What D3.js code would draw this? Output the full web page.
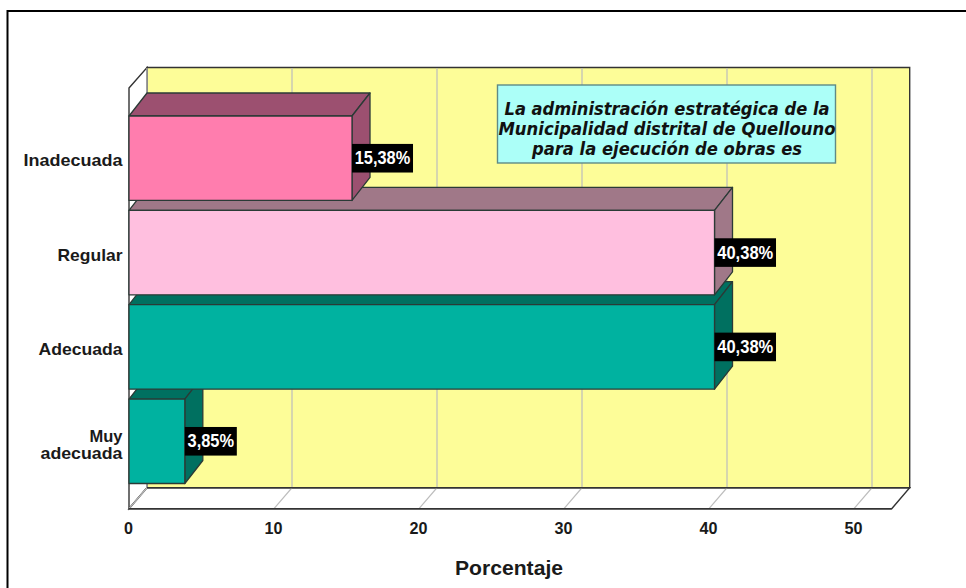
<!DOCTYPE html>
<html><head><meta charset="utf-8">
<script src="https://cdnjs.cloudflare.com/ajax/libs/d3/7.8.5/d3.min.js"></script>
<style>html,body{margin:0;padding:0;background:#fff;overflow:hidden}svg{display:block}</style>
</head><body><svg id="c" width="966" height="588"></svg>
<script>
const categories = ["Inadecuada","Regular","Adecuada","Muy adecuada"];
const values = [15.38,40.38,40.38,3.85];
const valueLabels = ["15,38%","40,38%","40,38%","3,85%"];
const frontColors = ["#FF7DAE","#FFBFDF","#00B2A0","#00B2A0"];
const darkColors = ["#9C5070","#A07888","#007060","#007060"];
const tickValues = [0,10,20,30,40,50];
const titleLines = ["La administración estratégica de la","Municipalidad distrital de Quellouno","para la ejecución de obras es"];
const xTitle = "Porcentaje";

const svg = d3.select("#c");
const bold = "'Liberation Sans',Arial,sans-serif";
const x = d3.scaleLinear().domain([0,52.6]).range([129,891.7]);
const y = d3.scaleBand().domain(categories).range([116,483.5]).paddingInner(0.105);
const dx = 18, wallDy = 21, barDy = 23;
const wallTop = 88, wallBottom = 508.7;
const line = d3.line();
const poly = pts => line(pts) + "Z";

svg.append("rect").attr("x",7.5).attr("y",11).attr("width",980).attr("height",600)
  .attr("fill","#fff").attr("stroke","#000").attr("stroke-width",2);

// back wall, left wall, floor
svg.append("path").attr("d",poly([[x(0)+dx,wallTop-wallDy+.5],[x.range()[1]+dx,wallTop-wallDy+.5],[x.range()[1]+dx,wallBottom-wallDy],[x(0)+dx,wallBottom-wallDy]]))
  .attr("fill","#FDFD98").attr("stroke","#333").attr("stroke-width",1.4);
svg.append("path").attr("d",poly([[x(0),wallTop],[x(0)+dx,wallTop-wallDy+.5],[x(0)+dx,wallBottom-wallDy],[x(0),wallBottom]]))
  .attr("fill","#fff").attr("stroke","#333").attr("stroke-width",1.4);
svg.append("path").attr("d",poly([[x(0),wallBottom],[x(0)+dx,wallBottom-wallDy],[x.range()[1]+dx,wallBottom-wallDy],[x.range()[1],wallBottom]]))
  .attr("fill","#fff").attr("stroke","#333").attr("stroke-width",1.4);

// grid
const grid = svg.append("g").attr("fill","none").attr("stroke","#BDBDBD").attr("stroke-width",1.2);
tickValues.forEach(t=>{
  grid.append("path").attr("d",line([[x(t),wallBottom],[x(t)+dx,wallBottom-wallDy],[x(t)+dx,wallTop-wallDy+1]]));
});
svg.append("path").attr("d",line([[x(0),wallBottom],[x.range()[1],wallBottom]])).attr("stroke","#333").attr("stroke-width",1.6);
svg.append("path").attr("d",line([[x(0)+dx,wallBottom-wallDy],[x.range()[1]+dx,wallBottom-wallDy]])).attr("stroke","#333").attr("stroke-width",1.4);

// title box
svg.append("rect").attr("x",497.5).attr("y",85).attr("width",338).attr("height",78)
  .attr("fill","#ACFFF8").attr("stroke","#5F8A86").attr("stroke-width",1.4);
const titleWidths = [325,337,270];
titleLines.forEach((t,i)=>{
  svg.append("text").attr("x",667).attr("y",114.5+i*20).attr("text-anchor","middle")
    .attr("font-family","'DejaVu Sans',sans-serif").attr("font-size",18).attr("font-weight","bold").attr("font-style","italic")
    .attr("textLength",titleWidths[i]).attr("lengthAdjust","spacingAndGlyphs").attr("fill","#111").text(t);
});

// bars, painted from the bottom up
const order = d3.range(categories.length).reverse();
order.forEach(i=>{
  const c = categories[i], x0 = x(0), x1 = x(values[i]), y0 = y(c), y1 = y0+y.bandwidth();
  const g = svg.append("g").attr("stroke","#2b3a36").attr("stroke-width",1.3).attr("stroke-linejoin","round");
  g.append("path").attr("d",poly([[x0,y0],[x0+dx,y0-barDy],[x1+dx,y0-barDy],[x1,y0]])).attr("fill",darkColors[i]);
  g.append("path").attr("d",poly([[x1,y0],[x1+dx,y0-barDy],[x1+dx,y1-barDy],[x1,y1]])).attr("fill",darkColors[i]);
  g.append("rect").attr("x",x0).attr("y",y0).attr("width",x1-x0).attr("height",y1-y0).attr("fill",frontColors[i]);
});

// value labels
const labelW = [61,61.5,61.5,52];
categories.forEach((c,i)=>{
  const cy = y(c)+y.bandwidth()/2, x1 = x(values[i]);
  svg.append("rect").attr("x",x1).attr("y",cy-14.3).attr("width",labelW[i]).attr("height",28.6).attr("fill","#000");
  svg.append("text").attr("x",x1+labelW[i]/2).attr("y",cy+6).attr("text-anchor","middle")
    .attr("font-family",bold).attr("font-weight","bold").attr("font-size",18).attr("fill","#fff")
    .attr("textLength",labelW[i]-5.5).attr("lengthAdjust","spacingAndGlyphs").text(valueLabels[i]);
});

// category labels
const catWidths = {"Inadecuada":99,"Regular":65,"Adecuada":84,"Muy":33,"adecuada":82};
categories.forEach(c=>{
  const cy = y(c)+y.bandwidth()/2;
  const parts = c.split(" ");
  parts.forEach((p,j)=>{
    svg.append("text").attr("x",122.5).attr("y",parts.length>1 ? cy+1+j*17 : cy+8).text(p)
      .attr("font-family",bold).attr("font-weight","bold").attr("font-size",17)
      .attr("fill","#1a1a1a").attr("text-anchor","end")
      .attr("textLength",catWidths[p]).attr("lengthAdjust","spacingAndGlyphs");
  });
});

// x axis
const axis = d3.axisBottom(x).tickValues(tickValues).tickSize(0).tickPadding(0).tickFormat(d3.format("d"));
const ax = svg.append("g").attr("transform",`translate(0,${wallBottom})`).call(axis);
ax.select(".domain").remove();
ax.selectAll("text").attr("font-family",bold).attr("font-weight","bold").attr("font-size",17)
  .attr("fill","#1a1a1a").attr("dx",-1).attr("dy",0).attr("y",25)
  .attr("textLength",d=>d===0?9:18).attr("lengthAdjust","spacingAndGlyphs");

svg.append("text").attr("x",509).attr("y",575).attr("text-anchor","middle")
  .attr("font-family",bold).attr("font-weight","bold").attr("font-size",20).attr("fill","#1a1a1a")
  .attr("textLength",108).attr("lengthAdjust","spacingAndGlyphs").text(xTitle);
</script></body></html>
